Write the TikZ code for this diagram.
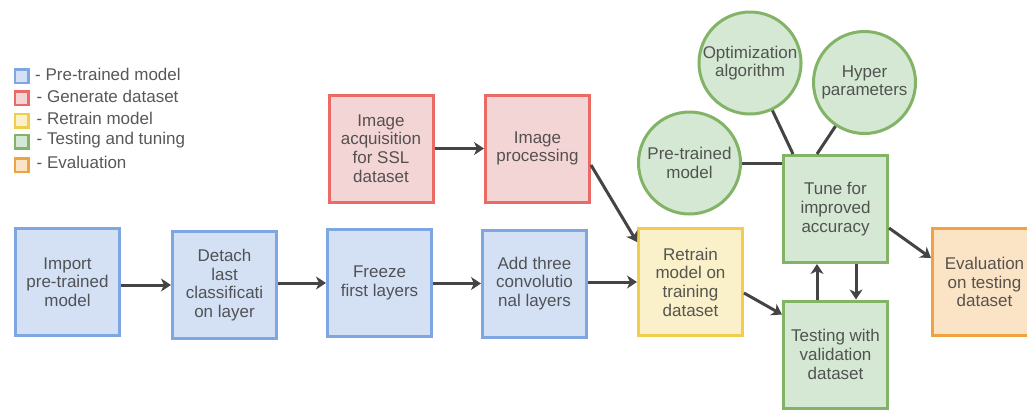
\documentclass[tikz,border=0pt]{standalone}
\usepackage{fontspec}
\setmainfont{Liberation Sans}
\usetikzlibrary{arrows.meta}
\definecolor{bluefill}{HTML}{D4E1F5}\definecolor{bluestroke}{HTML}{7EA6E0}
\definecolor{redfill}{HTML}{F4D5D5}\definecolor{redstroke}{HTML}{EA6B66}
\definecolor{yelfill}{HTML}{FAF0CA}\definecolor{yelstroke}{HTML}{F2CC4C}
\definecolor{grnfill}{HTML}{D5E8D4}\definecolor{grnstroke}{HTML}{82B366}
\definecolor{orgfill}{HTML}{FBE3C5}\definecolor{orgstroke}{HTML}{F0A140}
\definecolor{txt}{HTML}{333333}
\definecolor{edge}{HTML}{444444}
\tikzset{
  lbl/.style={font=\fontsize{17}{18.7}\selectfont, text=txt, text opacity=0.82},
  box/.style={lbl, draw, line width=3pt, minimum width=104pt, minimum height=107pt, inner sep=0pt, align=center},
  bbox/.style={box, fill=bluefill, draw=bluestroke},
  rbox/.style={box, fill=redfill, draw=redstroke},
  ybox/.style={box, fill=yelfill, draw=yelstroke},
  gbox/.style={box, fill=grnfill, draw=grnstroke},
  obox/.style={box, fill=orgfill, draw=orgstroke},
  gcirc/.style={lbl, circle, draw=grnstroke, fill=grnfill, line width=3pt, minimum size=102pt, inner sep=0pt, align=center},
  legsq/.style={draw, line width=2.5pt, minimum size=13.5pt, inner sep=0pt},
  legtxt/.style={lbl, anchor=west, inner sep=0pt},
  arr/.style={draw=edge, line width=3pt, -{Stealth[length=10pt,width=13pt,inset=3pt]}},
  ln/.style={draw=edge, line width=3pt}
}
\begin{document}
\begin{tikzpicture}[x=1pt,y=-1pt]
\useasboundingbox (0,0) rectangle (1027,410);
% legend
\node[legsq, fill=bluefill, draw=bluestroke] (l1) at (21.5,76) {};
\node[legsq, fill=redfill, draw=redstroke] (l2) at (21.5,98) {};
\node[legsq, fill=yelfill, draw=yelstroke] (l3) at (21.5,120.5) {};
\node[legsq, fill=grnfill, draw=grnstroke] (l4) at (21.5,141.5) {};
\node[legsq, fill=orgfill, draw=orgstroke] (l5) at (21.5,165) {};
\node[legtxt] (t1) at (35,74) {- Pre-trained model};
\node[legtxt] (t2) at (36.5,96) {- Generate dataset};
\node[legtxt] (t3) at (36.5,118) {- Retrain model};
\node[legtxt] (t4) at (36.5,140.5) {- Testing and tuning};
\node[legtxt] (t5) at (36.5,162.5) {- Evaluation};
% boxes
\node[bbox] (imp) at (67.5,282) {Import\\pre-trained\\model};
\node[bbox] (det) at (224.5,285) {Detach\\last\\classificati\\on layer};
\node[bbox] (frz) at (379.5,283) {Freeze\\first layers};
\node[bbox] (add) at (534.5,283.5) {Add three\\convolutio\\nal layers};
\node[rbox] (acq) at (381,148.5) {Image\\acquisition\\for SSL\\dataset};
\node[rbox] (ip) at (537.5,148.5) {Image\\processing};
\node[ybox] (rt) at (690.5,282) {Retrain\\model on\\training\\dataset};
\node[gbox] (tune) at (835.5,209) {Tune for\\improved\\accuracy};
\node[gbox] (tst) at (835.5,354.5) {Testing with\\validation\\dataset};
\node[obox] (ev) at (984.5,282) {Evaluation\\on testing\\dataset};
% circles
\node[gcirc] (opt) at (750,63) {Optimization\\algorithm};
\node[gcirc] (hyp) at (864.5,82.5) {Hyper\\parameters};
\node[gcirc] (ptc) at (689.5,163) {Pre-trained\\model};
% connectors
\draw[arr] (imp.east |- det.west) -- (det.west);
\draw[arr] (det.east |- frz.west) -- (frz.west);
\draw[arr] (frz.east |- add.west) -- (add.west);
\draw[arr] (add.east |- rt.west) -- (rt.west);
\draw[arr] (acq.east) -- (ip.west);
\draw[arr] ([yshift=-16.5pt]ip.east) -- ([yshift=40pt]rt.west);
\draw[arr] ([yshift=-11pt]rt.east) -- ([yshift=40pt]tst.west);
\draw[arr] ([yshift=-19pt]tune.east) -- ([yshift=24pt]ev.west);
\draw[arr] ([xshift=-18.5pt]tst.north) -- ([xshift=-18.5pt]tune.south);
\draw[arr] ([xshift=20.5pt]tune.south) -- ([xshift=20.5pt]tst.north);
\draw[ln] (ptc.east) -- (ptc.east -| tune.west);
\draw[ln] (opt) -- ([xshift=-42.5pt]tune.north);
\draw[ln] (hyp) -- ([xshift=-18.5pt]tune.north);
\end{tikzpicture}
\end{document}
